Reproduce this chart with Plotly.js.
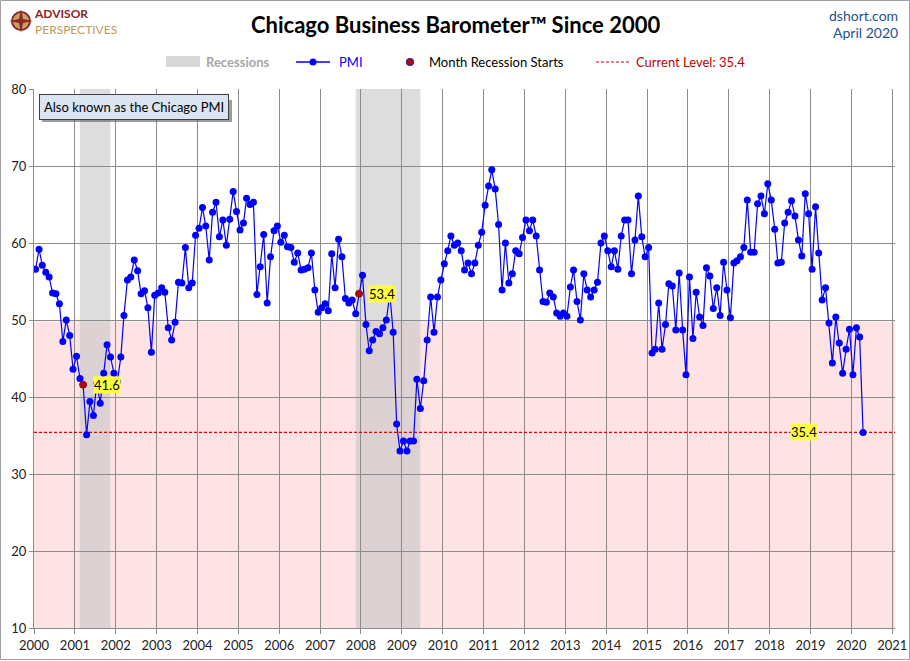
<!DOCTYPE html>
<html>
<head>
<meta charset="utf-8">
<script src="https://cdn.plot.ly/plotly-3.0.1.min.js"></script>
<style>
  html, body { margin: 0; padding: 0; background: #fff; }
  #chart { width: 910px; height: 661px; }
</style>
</head>
<body>
<div id="chart"></div>
<script>
// monthly Chicago PMI, Jan 2000 .. Apr 2020
var startYear = 2000;
var pmi = [
  56.6, 59.2, 57.1, 56.2, 55.6, 53.5, 53.4, 52.1, 47.2, 50.0, 48.0, 43.6, // 2000
  45.3, 42.4, 41.6, 35.1, 39.4, 37.6, 41.8, 39.2, 43.1, 46.8, 45.2, 43.1, // 2001
  42.0, 45.2, 50.6, 55.2, 55.6, 57.8, 56.4, 53.4, 53.8, 51.6, 45.8, 53.2, // 2002
  53.5, 54.2, 53.6, 49.0, 47.4, 49.7, 54.9, 54.8, 59.4, 54.2, 54.8, 61.0, // 2003
  61.9, 64.6, 62.2, 57.8, 64.0, 65.3, 60.8, 63.0, 59.7, 63.1, 66.7, 64.1, // 2004
  61.7, 62.6, 65.8, 65.0, 65.3, 53.3, 56.9, 61.1, 52.2, 58.2, 61.6, 62.2, // 2005
  60.1, 61.0, 59.5, 59.4, 57.5, 58.7, 56.5, 56.6, 56.8, 58.7, 53.9, 51.0, // 2006
  51.6, 52.1, 51.2, 58.6, 54.2, 60.5, 58.2, 52.8, 52.2, 52.6, 50.8, 53.4, // 2007
  55.8, 49.4, 46.0, 47.4, 48.5, 48.2, 49.0, 50.0, 53.4, 48.4, 36.5, 33.0, // 2008
  34.3, 33.0, 34.3, 34.3, 42.3, 38.5, 42.1, 47.4, 53.0, 48.4, 53.0, 55.2, // 2009
  57.3, 59.0, 60.9, 59.7, 60.0, 59.0, 56.5, 57.4, 56.0, 57.4, 59.7, 61.4, // 2010
  64.9, 67.4, 69.5, 67.0, 62.4, 53.9, 60.0, 54.8, 56.0, 59.0, 58.6, 60.7, // 2011
  63.0, 61.6, 63.0, 60.9, 56.5, 52.4, 52.3, 53.5, 53.0, 50.9, 50.5, 50.9, // 2012
  50.5, 54.3, 56.5, 52.4, 50.0, 56.0, 53.9, 53.0, 53.9, 54.9, 60.0, 60.9, // 2013
  59.0, 56.9, 59.0, 56.6, 60.9, 63.0, 63.0, 56.0, 60.4, 66.1, 60.8, 58.2, // 2014
  59.4, 45.7, 46.2, 52.2, 46.2, 49.4, 54.7, 54.4, 48.7, 56.1, 48.7, 42.9, // 2015
  55.6, 47.6, 53.6, 50.4, 49.3, 56.8, 55.7, 51.5, 54.2, 50.6, 57.5, 53.9, // 2016
  50.3, 57.4, 57.7, 58.2, 59.4, 65.6, 58.8, 58.8, 65.1, 66.1, 63.8, 67.7, // 2017
  65.6, 61.8, 57.4, 57.5, 62.6, 64.0, 65.5, 63.5, 60.4, 58.3, 66.4, 63.8, // 2018
  56.6, 64.7, 58.7, 52.6, 54.2, 49.6, 44.4, 50.4, 47.0, 43.1, 46.2, 48.8, // 2019
  42.9, 49.0, 47.8, 35.4                                                  // 2020
];

var recessionStart = ['2001-02-13', '2007-11-15'];
var recessionEnd = ['2001-11-13', '2009-06-15'];
var recessionFirstMonth = ['2001-03', '2007-12'];

var xRange = ['2000-01-01', '2021-01-25'];
var yRange = [10, 80];
var contractionLevel = 49.8;

// month dates
var dates = [];
for (var i = 0; i < pmi.length; i++) {
  var yr = startYear + Math.floor(i / 12);
  var mo = (i % 12) + 1;
  dates.push(yr + '-' + (mo < 10 ? '0' + mo : mo) + '-15');
}

var startX = [], startY = [];
for (var r of recessionFirstMonth) {
  var idx = dates.indexOf(r + '-15');
  startX.push(dates[idx]);
  startY.push(pmi[idx]);
}
var current = pmi[pmi.length - 1];
var lastDate = dates[dates.length - 1];

// pixel -> paper helpers (plot area is 34..895 x 89..628)
var L = 34, T = 89, W = 861, H = 539;
function px(x) { return (x - L) / W; }
function py(y) { return (T + H - y) / H; }

var font = 'Lato, "Open Sans", sans-serif';

var traces = [
  {
    x: xRange, y: [current, current],
    mode: 'lines', type: 'scatter',
    line: {color: '#e00000', width: 1.2, dash: '3px,2px'},
    hoverinfo: 'skip'
  },
  {
    x: dates, y: pmi,
    mode: 'lines+markers', type: 'scatter',
    line: {color: '#0000ff', width: 1.2},
    marker: {color: '#0000ff', size: 7}
  },
  {
    x: startX, y: startY,
    mode: 'markers', type: 'scatter',
    marker: {color: '#c00000', size: 7, line: {color: '#7a1a1a', width: 0.8}}
  }
];

var shapes = [
  // contraction zone
  {type: 'rect', layer: 'below', xref: 'paper', yref: 'y', x0: 0, x1: 1,
   y0: yRange[0], y1: contractionLevel, fillcolor: '#fee3e4', line: {width: 0}}
];
for (var k = 0; k < recessionStart.length; k++) {
  shapes.push({type: 'rect', layer: 'below', xref: 'x', yref: 'paper',
    x0: recessionStart[k], x1: recessionEnd[k], y0: 0, y1: 1,
    fillcolor: 'rgba(200,200,200,0.62)', line: {width: 0}});
}
// figure border
shapes.push({type: 'rect', xref: 'paper', yref: 'paper',
  x0: px(0.5), x1: px(909.5), y0: py(0.5), y1: py(659.5),
  line: {color: '#a0a0a0', width: 1}});
// logo mark
shapes.push({type: 'circle', xref: 'paper', yref: 'paper',
  x0: px(12), x1: px(30), y0: py(12), y1: py(30),
  line: {color: '#8b2a2a', width: 2}, fillcolor: '#c9a060'});
shapes.push({type: 'path', xref: 'paper', yref: 'paper',
  path: 'M' + px(21) + ',' + py(9) + ' L' + px(23) + ',' + py(19) + ' L' + px(33) + ',' + py(21) +
        ' L' + px(23) + ',' + py(23) + ' L' + px(21) + ',' + py(33) + ' L' + px(19) + ',' + py(23) +
        ' L' + px(9) + ',' + py(21) + ' L' + px(19) + ',' + py(19) + ' Z',
  fillcolor: '#8b2a2a', line: {width: 0}});
// legend
shapes.push({type: 'rect', xref: 'paper', yref: 'paper',
  x0: px(166), x1: px(200), y0: py(56), y1: py(67), fillcolor: '#d9d9d9', line: {width: 0}});
shapes.push({type: 'line', xref: 'paper', yref: 'paper',
  x0: px(296), x1: px(330), y0: py(62), y1: py(62), line: {color: '#0000ff', width: 1.5}});
shapes.push({type: 'circle', xref: 'paper', yref: 'paper',
  x0: px(309.5), x1: px(316.5), y0: py(58.5), y1: py(65.5), fillcolor: '#0000ff', line: {color: '#0000ff', width: 0}});
shapes.push({type: 'circle', xref: 'paper', yref: 'paper',
  x0: px(406.5), x1: px(413.5), y0: py(58.5), y1: py(65.5), fillcolor: '#c00000', line: {color: '#2a2a9a', width: 1.2}});
shapes.push({type: 'line', xref: 'paper', yref: 'paper',
  x0: px(596), x1: px(631), y0: py(62), y1: py(62), line: {color: '#e00000', width: 1.2, dash: '3px,2px'}});
// note box shadow
shapes.push({type: 'rect', xref: 'paper', yref: 'paper',
  x0: px(42), x1: px(232), y0: py(100), y1: py(122), fillcolor: 'rgba(90,90,90,0.6)', line: {width: 0}});

function note(x, y, text, opts) {
  var a = {xref: 'paper', yref: 'paper', x: px(x), y: py(y), text: text, showarrow: false,
           xanchor: 'left', yanchor: 'middle', font: {family: font, size: 13, color: '#000'}};
  for (var o in opts) a[o] = opts[o];
  return a;
}

var annotations = [
  note(455, 25, 'Chicago Business Barometer™ Since 2000',
       {xanchor: 'center', font: {family: font, size: 22, color: '#000', weight: 'bold'}}),
  note(32, 21, '<b><span style="color:#8b2323">ADVISOR</span></b><br><span style="color:#c49a52">PERSPECTIVES</span>',
       {align: 'left', font: {family: font, size: 12, color: '#8b2323'}}),
  note(900, 15, 'dshort.com', {xanchor: 'right', font: {family: font, size: 14, color: '#1f4f94'}}),
  note(900, 33, 'April 2020', {xanchor: 'right', font: {family: font, size: 14, color: '#1f4f94'}}),
  note(204, 62, '<b>Recessions</b>', {font: {family: font, size: 13, color: '#a6a6a6'}}),
  note(337, 62, 'PMI', {font: {family: font, size: 13, color: '#0000ff'}}),
  note(427, 62, 'Month Recession Starts', {font: {family: font, size: 13, color: '#000'}}),
  note(634, 62, 'Current Level: ' + current.toFixed(1), {font: {family: font, size: 13, color: '#c00000'}}),
  note(39, 107, 'Also known as the Chicago PMI',
       {bgcolor: '#dbe5f1', bordercolor: '#404040', borderwidth: 1, borderpad: 4,
        font: {family: font, size: 13, color: '#000'}})
];
// value labels
var labelShift = [24, 23];
for (var j = 0; j < startX.length; j++) {
  annotations.push({x: startX[j], y: startY[j], xref: 'x', yref: 'y', text: startY[j].toFixed(1),
    showarrow: false, xshift: labelShift[j], bgcolor: '#ffff40', borderpad: 0,
    font: {family: font, size: 13, color: '#000'}});
}
annotations.push({x: lastDate, y: current, xref: 'x', yref: 'y', text: current.toFixed(1),
  showarrow: false, xshift: -59, bgcolor: '#ffff40', borderpad: 0,
  font: {family: font, size: 13, color: '#000'}});

var layout = {
  width: 910, height: 661,
  margin: {l: L, r: 910 - L - W, t: T, b: 661 - T - H},
  paper_bgcolor: '#fff', plot_bgcolor: '#fff',
  showlegend: false,
  font: {family: font, size: 13, color: '#222'},
  xaxis: {
    type: 'date', range: xRange, tick0: '2000-01-01', dtick: 'M12', tickformat: '%Y',
    showgrid: true, gridcolor: '#8c8c8c', gridwidth: 1,
    showline: true, linecolor: '#8c8c8c', linewidth: 1,
    ticks: 'outside', ticklen: 5, tickcolor: '#8c8c8c',
    tickfont: {family: font, size: 13, color: '#222'}, zeroline: false, fixedrange: true
  },
  yaxis: {
    range: yRange, dtick: 10, tick0: 10,
    showgrid: true, gridcolor: '#8c8c8c', gridwidth: 1,
    showline: true, linecolor: '#8c8c8c', linewidth: 1,
    ticks: 'outside', ticklen: 4, tickcolor: '#8c8c8c',
    tickfont: {family: font, size: 13, color: '#222'}, zeroline: false, fixedrange: true
  },
  shapes: shapes,
  annotations: annotations
};

Plotly.newPlot('chart', traces, layout, {displayModeBar: false, staticPlot: true});
</script>
</body>
</html>
